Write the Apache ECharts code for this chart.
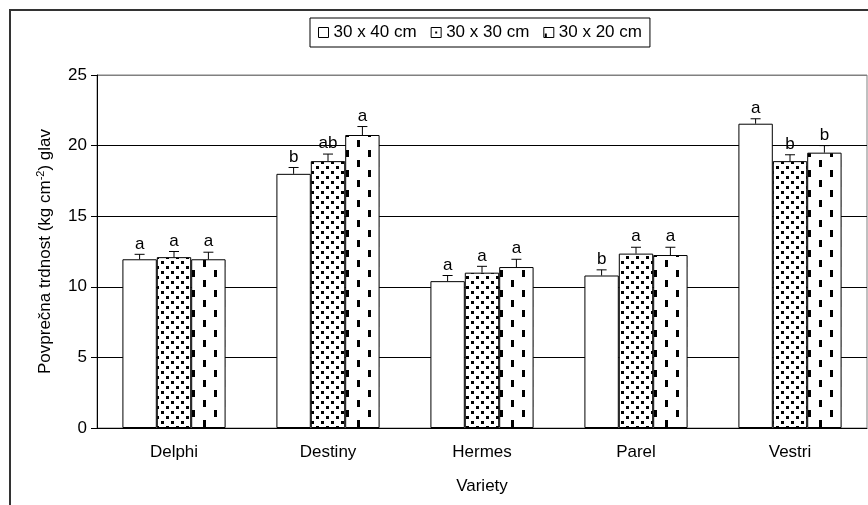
<!DOCTYPE html>
<html>
<head>
<meta charset="utf-8">
<script src="https://cdn.jsdelivr.net/npm/echarts@6/dist/echarts.min.js"></script>
<style>
  html, body { margin: 0; padding: 0; background: #fff; }
  #chart { width: 868px; height: 505px; }
</style>
</head>
<body>
<div id="chart"></div>
<script>
// sorte
var varieties = ["Delphi", "Destiny", "Hermes", "Parel", "Vestri"];
var seriesNames = ["30 x 40 cm", "30 x 30 cm", "30 x 20 cm"];
var yTicks = [0, 5, 10, 15, 20, 25];

// povprecna trdnost po razdalji sajenja
var s40 = [11.95, 18.0, 10.4, 10.8, 21.55];
var s30 = [12.1, 18.9, 11.0, 12.35, 18.9];
var s20 = [11.95, 20.75, 11.4, 12.25, 19.5];

// standardna napaka (samo navzgor)
var e40 = [0.35, 0.45, 0.4, 0.4, 0.35];
var e30 = [0.4, 0.5, 0.45, 0.45, 0.45];
var e20 = [0.5, 0.6, 0.55, 0.55, 0.5];

// crke statisticne znacilnosti
var l40 = ["a", "b", "a", "b", "a"];
var l30 = ["a", "ab", "a", "a", "b"];
var l20 = ["a", "a", "a", "a", "b"];

var values = [s40, s30, s20];
var errors = [e40, e30, e20];
var letters = [l40, l30, l20];

var catGap = 0.33;
var fontName = "Liberation Sans, Arial, sans-serif";

// vzorci za polnila
function dotPattern() {
  var c = document.createElement("canvas");
  c.width = 10;
  c.height = 10;
  var ctx = c.getContext("2d");
  ctx.fillStyle = "#fff";
  ctx.fillRect(0, 0, 10, 10);
  ctx.fillStyle = "#000";
  ctx.fillRect(1, 1, 3, 3);
  ctx.fillRect(6, 6, 3, 3);
  return c;
}

function dashPattern() {
  var c = document.createElement("canvas");
  c.width = 22;
  c.height = 20;
  var ctx = c.getContext("2d");
  ctx.fillStyle = "#fff";
  ctx.fillRect(0, 0, 22, 20);
  ctx.fillStyle = "#000";
  ctx.fillRect(5, 0, 3, 7);
  ctx.fillRect(16, 10, 3, 7);
  return c;
}

// ikone v legendi so bolj redke
function iconPattern(kind) {
  var c = document.createElement("canvas");
  c.width = 10;
  c.height = 10;
  var ctx = c.getContext("2d");
  ctx.fillStyle = "#fff";
  ctx.fillRect(0, 0, 10, 10);
  ctx.fillStyle = "#000";
  if (kind == "dot") {
    ctx.fillRect(4, 4, 2, 2);
  } else {
    ctx.fillRect(1, 6, 2, 4);
  }
  return c;
}

var fills = [
  "#ffffff",
  { image: dotPattern(), repeat: "repeat" },
  { image: dashPattern(), repeat: "repeat" }
];

var legendFills = [
  "#ffffff",
  { image: iconPattern("dot"), repeat: "repeat" },
  { image: iconPattern("dash"), repeat: "repeat" }
];

var legendData = seriesNames.map(function(n, i) {
  return { name: n, itemStyle: { color: legendFills[i], borderColor: "#000", borderWidth: 1 } };
});

var series = [];
for (let i = 0; i < 3; i++) {
  series.push({
    name: seriesNames[i],
    type: "bar",
    data: values[i],
    barGap: "0%",
    barCategoryGap: catGap * 100 + "%",
    itemStyle: {
      color: fills[i],
      borderColor: "#000",
      borderWidth: 1
    },
    z: 2
  });
}

// napake in crke
for (let i = 0; i < 3; i++) {
  var d = [];
  for (let j = 0; j < varieties.length; j++) {
    d.push([j, values[i][j], errors[i][j]]);
  }
  series.push({
    name: "err" + i,
    type: "custom",
    data: d,
    z: 5,
    silent: true,
    renderItem: function(params, api) {
      var c = api.value(0);
      var v = api.value(1);
      var e = api.value(2);
      var p0 = api.coord([c, v]);
      var p1 = api.coord([c, v + e]);
      var band = api.size([1, 0])[0];
      var bw = (band * (1 - catGap)) / 3;
      var x = p0[0] + (i - 1) * bw;
      return {
        type: "group",
        children: [
          {
            type: "line",
            shape: { x1: x, y1: p0[1], x2: x, y2: p1[1] },
            style: { stroke: "#000", lineWidth: 1 }
          },
          {
            type: "line",
            shape: { x1: x - 5, y1: p1[1], x2: x + 5, y2: p1[1] },
            style: { stroke: "#000", lineWidth: 1 }
          },
          {
            type: "text",
            style: {
              x: x,
              y: p1[1] - 2,
              text: letters[i][params.dataIndex],
              fill: "#000",
              font: "17px " + fontName,
              align: "center",
              verticalAlign: "bottom"
            }
          }
        ]
      };
    }
  });
}

var chart = echarts.init(document.getElementById("chart"));
chart.setOption({
  backgroundColor: "#fff",
  animation: false,
  textStyle: { fontFamily: fontName },
  grid: {
    left: 97,
    right: 1,
    top: 75,
    bottom: 77,
    show: true,
    borderColor: "#808080",
    borderWidth: 1
  },
  legend: {
    data: legendData,
    left: 310,
    top: 18,
    padding: [6, 8],
    itemGap: 14,
    itemWidth: 10,
    itemHeight: 10,
    borderColor: "#000",
    borderWidth: 1,
    icon: "rect",
    textStyle: { fontSize: 17, color: "#000" }
  },
  xAxis: {
    type: "category",
    data: varieties,
    name: "Variety",
    nameLocation: "middle",
    nameGap: 50,
    nameTextStyle: { fontSize: 17, color: "#000" },
    axisLine: { lineStyle: { color: "#000" } },
    axisTick: { length: 5, lineStyle: { color: "#000" } },
    axisLabel: { fontSize: 17, color: "#000", margin: 16 }
  },
  yAxis: {
    type: "value",
    min: yTicks[0],
    max: yTicks[yTicks.length - 1],
    interval: 5,
    name: "Povprečna trdnost (kg cm{sup|-2}) glav",
    nameLocation: "middle",
    nameRotate: 90,
    nameGap: 42,
    nameTextStyle: {
      fontSize: 17,
      color: "#000",
      lineHeight: 20,
      rich: {
        sup: { fontSize: 11, color: "#000", verticalAlign: "top", lineHeight: 20 }
      }
    },
    axisLine: { show: true, lineStyle: { color: "#000" } },
    axisTick: { show: true, length: 6, lineStyle: { color: "#000" } },
    axisLabel: { fontSize: 17, color: "#000", margin: 10 },
    splitLine: {
      lineStyle: {
        color: ["#000", "#000", "#000", "#000", "#000", "#808080"]
      }
    }
  },
  graphic: [
    {
      type: "rect",
      shape: { x: 10, y: 10, width: 900, height: 600 },
      style: { fill: "none", stroke: "#333", lineWidth: 2 },
      silent: true,
      z: 100
    }
  ],
  series: series
});
</script>
</body>
</html>
